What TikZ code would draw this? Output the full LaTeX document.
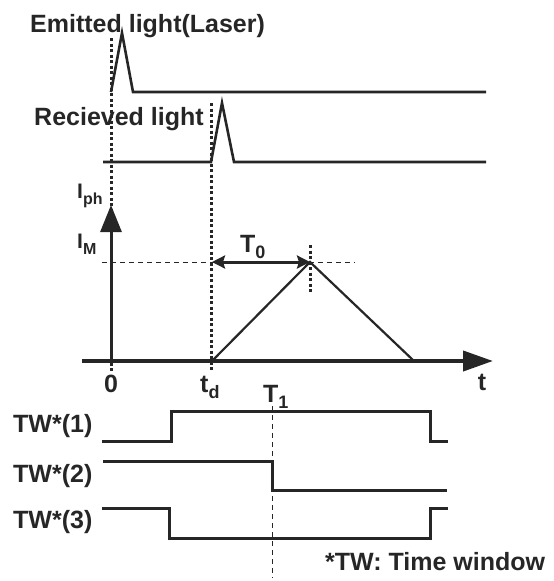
\documentclass[tikz,border=0pt]{standalone}
\usepackage{fontspec}
\setmainfont{Liberation Sans}
\usetikzlibrary{arrows.meta,positioning}
\definecolor{ink}{HTML}{262626}
\newcommand\lowtxt[2][18]{\raisebox{-6pt}{\fontsize{#1}{#1}\selectfont #2}}

\begin{document}
\begin{tikzpicture}[x=1pt,y=-1pt]
\tikzstyle{every node}=[font=\fontsize{25}{29}\selectfont\bfseries,text=ink,inner sep=0pt]
\tikzstyle{lbl}=[anchor=base west]
\tikzstyle{cur}=[font=\fontsize{21}{24}\selectfont\bfseries,anchor=base west]
\tikzstyle{wave}=[draw=ink,line width=3pt]
\tikzstyle{ramp}=[draw=ink,line width=2.2pt]
\tikzstyle{dotline}=[draw=ink,line width=3pt,dash pattern=on 3pt off 2.5pt]
\tikzstyle{guide}=[draw=ink,line width=1pt,dash pattern=on 5pt off 4pt]
\useasboundingbox (0,0) rectangle (554,581);

% emitted and received pulses
\coordinate (e0) at (111,92); \coordinate (ep) at (122,33);
\coordinate (e1) at (133,92); \coordinate (eend) at (486,92);
\draw[wave,line width=2.6pt] (e0) -- (ep) -- (e1) -- (eend);
\coordinate (r0) at (103,162); \coordinate (rs) at (211,162); \coordinate (rp) at (222,103);
\coordinate (r1) at (234,162); \coordinate (rend) at (486,162);
\draw[wave,line width=2.6pt] (r0) -- (rs) -- (rp) -- (r1) -- (rend);

% time markers
\coordinate (m0top) at (111,38); \coordinate (m0bot) at (111,372);
\coordinate (mdtop) at (211,103); \coordinate (mdbot) at (211,372);
\draw[dotline] (m0top) -- (m0bot);
\draw[dotline] (mdtop) -- (mdbot);

% photocurrent
\coordinate (ax0) at (82,361); \coordinate (axend) at (493,361);
\coordinate (yb) at (111,361); \coordinate (yt) at (111,205);
\draw[ink,line width=4pt,-{Triangle[length=30pt,width=20pt]}] (ax0) -- (axend);
\draw[ink,line width=3pt,-{Triangle[length=27pt,width=21pt]}] (yb) -- (yt);
\coordinate (rise) at (212,361); \coordinate (peak) at (310,262); \coordinate (fall) at (414,361);
\draw[ramp] (rise) -- (peak) -- (fall);
\coordinate (g0) at (102,262); \coordinate (g1) at (355,262);
\draw[guide] (g0) -- (g1);
\coordinate (pk0) at (310,245); \coordinate (pk1) at (310,292);
\draw[dotline] (pk0) -- (pk1);
\coordinate (tda) at (212,262);
\draw[ink,line width=3pt,{Stealth[length=13pt,width=13pt,inset=2pt]}-{Stealth[length=13pt,width=13pt,inset=2pt]}] (tda) -- (peak);

% time windows
\coordinate (t1top) at (272,406); \coordinate (t1bot) at (272,578);
\draw[guide] (t1top) -- (t1bot);
\coordinate (w1a) at (102,441); \coordinate (w1up) at (171,411);
\coordinate (w1dn) at (430,441); \coordinate (w1b) at (448,441);
\draw[wave] (w1a) -| (w1up) -| (w1dn) -- (w1b);
\coordinate (w2a) at (103,461); \coordinate (w2dn) at (272,490); \coordinate (w2b) at (447,490);
\draw[wave] (w2a) -| (w2dn) -- (w2b);
\coordinate (w3a) at (102,508); \coordinate (w3dn) at (169,538);
\coordinate (w3up) at (430,508); \coordinate (w3b) at (448,508);
\draw[wave] (w3a) -| (w3dn) -| (w3up) -- (w3b);

% labels
\node[lbl] (emlab) at (30,32) {Emitted light(Laser)};
\node[lbl] (rclab) at (34,125) {Recieved light};
\node[cur] (iph) at (77,198) {I\lowtxt[16]{ph}};
\node[cur] (im) at (77,248) {I\lowtxt[16]{M}};
\node[lbl] (t0) at (240,252) {T\lowtxt{0}};
\node[anchor=base] (zero) at (111,392) {0};
\node[lbl] (td) at (200,392) {t\lowtxt{d}};
\node[anchor=base] (tlab) at (482,390) {t};
\node[lbl] (t1) at (263,402) {T\lowtxt{1}};
\node[lbl] (tw1) at (13,432) {TW*(1)};
\node[lbl] (tw2) at (13,482) {TW*(2)};
\node[lbl] (tw3) at (13,528) {TW*(3)};
\node[lbl] (note) at (325,570) {*TW: Time window};
\end{tikzpicture}
\end{document}
